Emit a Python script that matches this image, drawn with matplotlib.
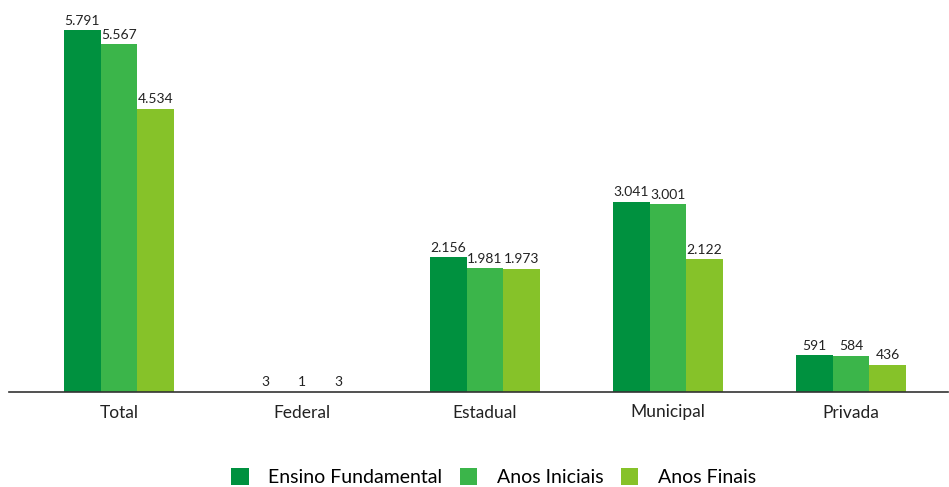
import matplotlib.pyplot as plt
import numpy as np
from matplotlib.patches import Patch

categorias = ["Total", "Federal", "Estadual", "Municipal", "Privada"]
series = ["Ensino Fundamental", "Anos Iniciais", "Anos Finais"]
ensino_fundamental = [5791, 3, 2156, 3041, 591]
anos_iniciais = [5567, 1, 1981, 3001, 584]
anos_finais = [4534, 3, 1973, 2122, 436]
cores = ["#00913F", "#3BB54A", "#86C229"]

plt.rcParams['font.family'] = ['Lato', 'DejaVu Sans']


def fmt(v):
    # separador de milhar com ponto
    return f"{v:,}".replace(",", ".")


fig = plt.figure(figsize=(9.49, 4.87), dpi=100)
ax = fig.add_axes([9 / 949, 95 / 487, 939 / 949, 392 / 487])

x = np.arange(len(categorias))
w = 0.2
for i, (vals, cor) in enumerate(zip([ensino_fundamental, anos_iniciais, anos_finais], cores)):
    pos = x + (i - 1) * w
    ax.bar(pos, vals, width=w, color=cor, linewidth=0)
    for p, v in zip(pos, vals):
        ax.text(p, v + 55, fmt(v), ha='center', va='bottom', fontsize=10, color='#222222')

ax.set_xlim(-0.6, 4.53)
ax.set_ylim(0, 6272)
ax.set_yticks([])
ax.set_xticks(x)
ax.set_xticklabels(categorias, fontsize=12.5, color='#222222')
ax.tick_params(axis='x', length=0, pad=9)
for s in ['top', 'right', 'left']:
    ax.spines[s].set_visible(False)
ax.spines['bottom'].set_color('#333333')
ax.spines['bottom'].set_linewidth(1.2)

handles = [Patch(facecolor=c, edgecolor='none') for c in cores]
fig.legend(handles, series, loc='center', bbox_to_anchor=(0.52, 0.02), ncol=3,
           frameon=False, fontsize=14, handlelength=0.9, handleheight=0.9,
           handletextpad=1.0, columnspacing=0.9)

fig.savefig('out.png', dpi=100)
